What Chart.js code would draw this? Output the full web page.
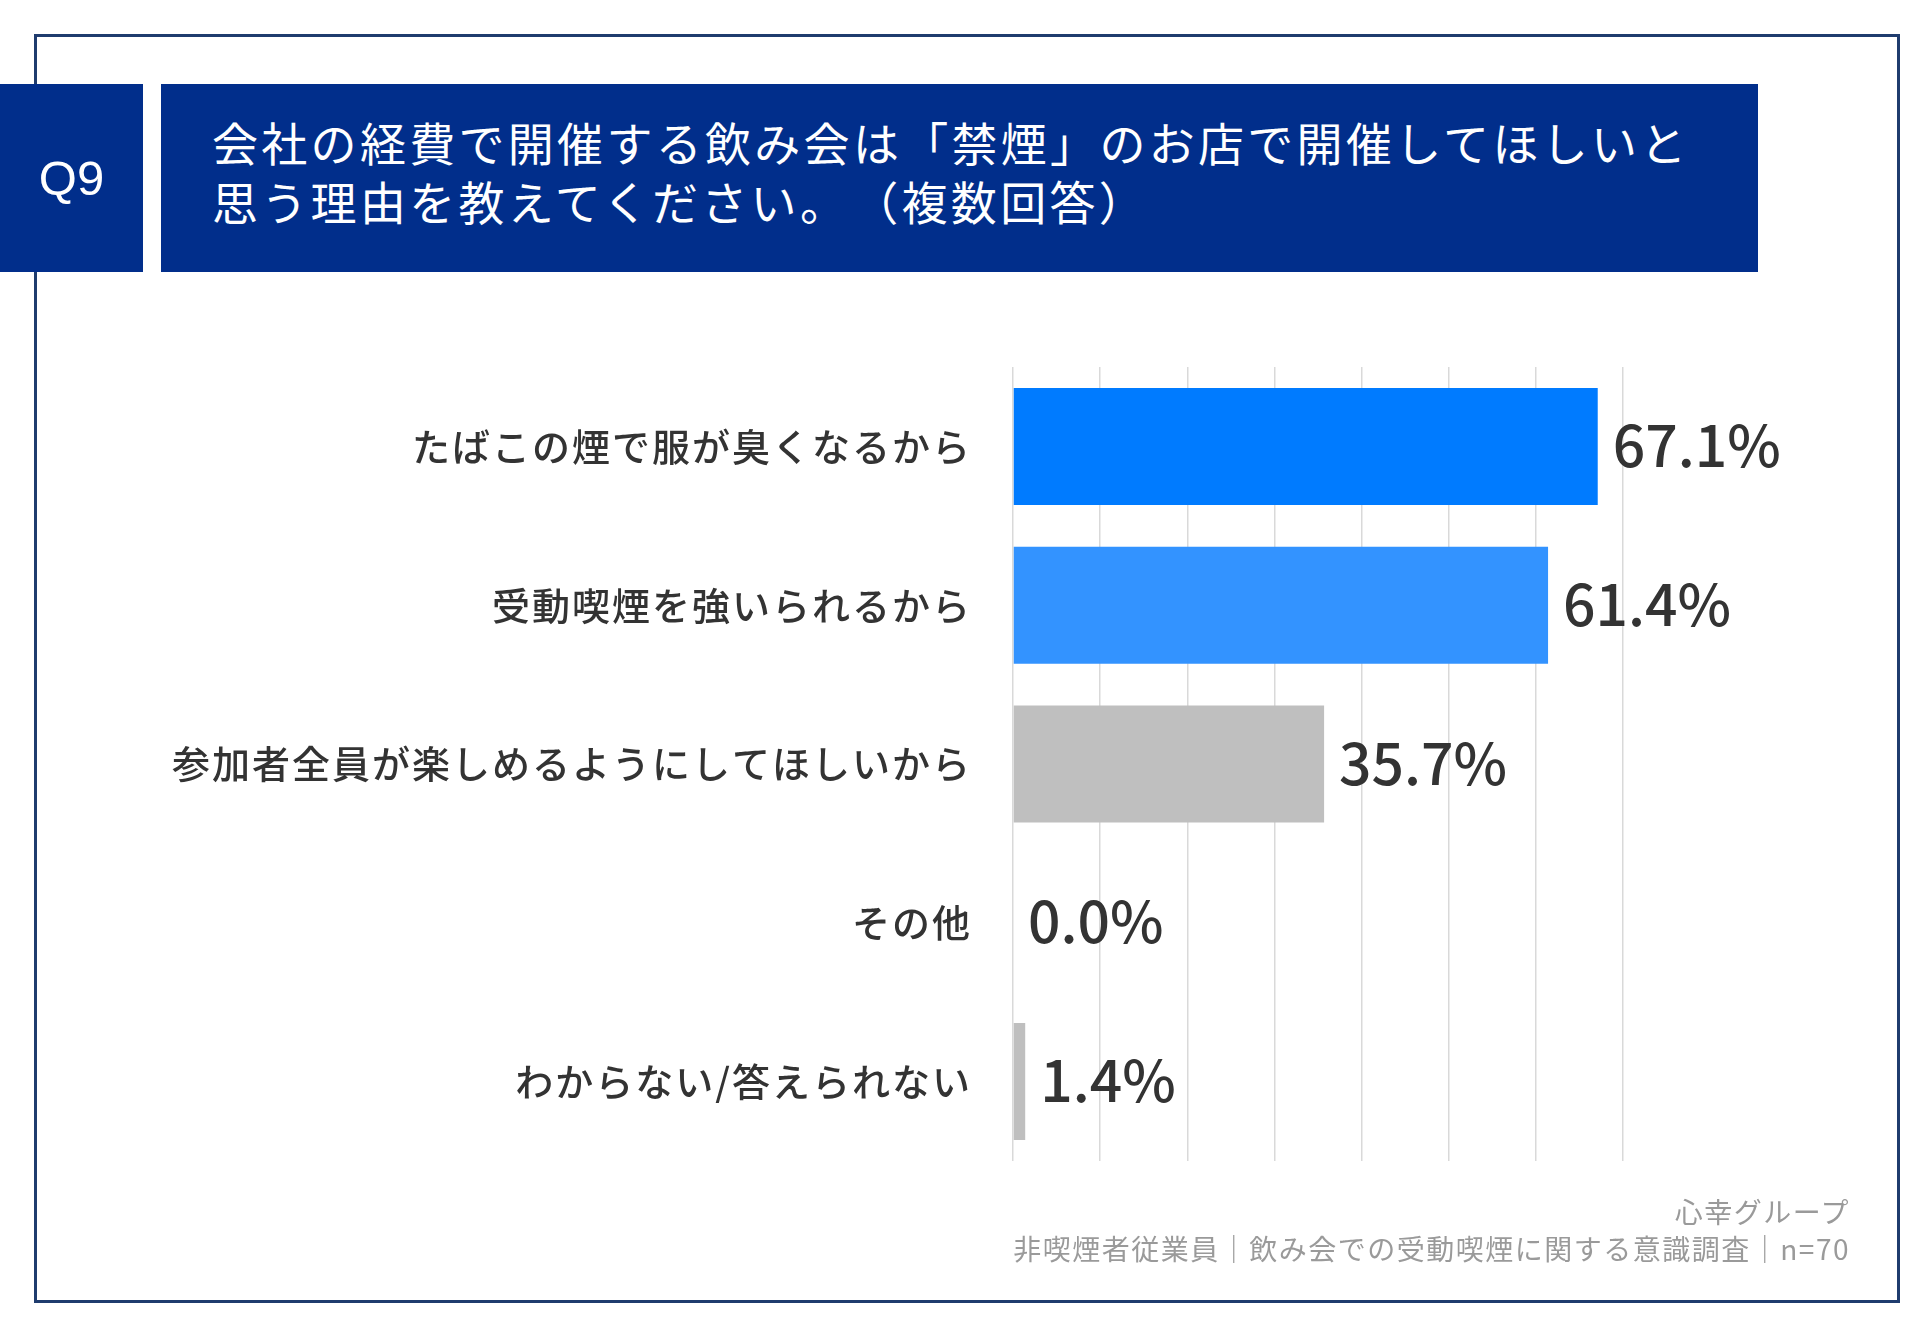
<!DOCTYPE html>
<html lang="ja">
<head>
<meta charset="utf-8">
<script src="https://cdn.jsdelivr.net/npm/chart.js@4.4.1/dist/chart.umd.min.js"></script>
<style>
  html, body { margin: 0; padding: 0; background: #ffffff; }
  body { width: 1920px; height: 1329px; position: relative; overflow: hidden;
         font-family: "Noto Sans CJK JP", "Noto Sans", sans-serif; }
  #frame { position: absolute; left: 34px; top: 34px; width: 1866px; height: 1269px;
           border: 3px solid #1f3c6e; box-sizing: border-box; }
  #qbox { position: absolute; left: 0; top: 84px; width: 143px; height: 188px; background: #012e8b;
          color: #fff; font-family: "Liberation Sans", Arial, sans-serif; font-size: 49px;
          display: flex; align-items: center; justify-content: center; }
  #tbox { position: absolute; left: 161px; top: 84px; width: 1597px; height: 188px; background: #012e8b; }
  .tline { position: absolute; left: 51px; color: #fff; font-size: 46px; letter-spacing: 3.3px;
           line-height: 1; white-space: nowrap; font-weight: 400; }
  #chartwrap { position: absolute; left: 40px; top: 340px; width: 1800px; height: 860px; }
  .foot { position: absolute; right: 70px; color: #9a9a9a; font-size: 28px; letter-spacing: 1.5px;
          line-height: 1; white-space: nowrap; }
</style>
</head>
<body>
<div id="frame"></div>
<div id="qbox">Q9</div>
<div id="tbox">
  <div class="tline" style="top:34px">会社の経費で開催する飲み会は「禁煙」のお店で開催してほしいと</div>
  <div class="tline" style="top:93px">思う理由を教えてください。<span style="margin-left:26px">（複数回答）</span></div>
</div>
<div id="chartwrap"><canvas id="c"></canvas></div>
<div class="foot" style="top:1197px">心幸グループ</div>
<div class="foot" style="top:1234px">非喫煙者従業員｜飲み会での受動喫煙に関する意識調査｜n=70</div>
<script>
const categories = [
  "たばこの煙で服が臭くなるから",
  "受動喫煙を強いられるから",
  "参加者全員が楽しめるようにしてほしいから",
  "その他",
  "わからない/答えられない"
];
const values = [67.1, 61.4, 35.7, 0.0, 1.4];
const barColors = ["#007bff", "#3393ff", "#bfbfbf", "#bfbfbf", "#bfbfbf"];
const axisMax = 70;
const axisStep = 10;

const spacingPlugin = {
  id: 'spacing',
  beforeLayout(chart) { chart.ctx.letterSpacing = '2px'; },
  beforeDraw(chart) { chart.ctx.letterSpacing = '2px'; }
};

const valueLabels = {
  id: 'valueLabels',
  afterDatasetsDraw(chart) {
    const ctx = chart.ctx;
    const meta = chart.getDatasetMeta(0);
    ctx.save();
    ctx.letterSpacing = '0px';
    ctx.font = '500 57px "Noto Sans CJK JP", "Noto Sans", sans-serif';
    ctx.fillStyle = '#333333';
    ctx.textAlign = 'left';
    ctx.textBaseline = 'middle';
    meta.data.forEach((bar, i) => {
      ctx.fillText(values[i].toFixed(1) + '%', bar.x + 15, bar.y - 1);
    });
    ctx.restore();
  }
};

new Chart(document.getElementById('c'), {
  type: 'bar',
  data: {
    labels: categories,
    datasets: [{
      data: values,
      backgroundColor: barColors,
      borderWidth: 0,
      barPercentage: 0.737,
      categoryPercentage: 1.0
    }]
  },
  options: {
    indexAxis: 'y',
    responsive: true,
    maintainAspectRatio: false,
    animation: false,
    layout: { padding: { left: 0, right: 217, top: 27, bottom: 39 } },
    plugins: { legend: { display: false }, tooltip: { enabled: false } },
    scales: {
      x: {
        min: 0, max: axisMax,
        afterFit(scale) { scale.paddingLeft = 0; scale.paddingRight = 0; scale.height = 0; },
        ticks: { display: false, stepSize: axisStep },
        grid: { color: '#d9d9d9', lineWidth: 1.5, drawTicks: false },
        border: { display: false }
      },
      y: {
        afterFit(scale) { scale.width = 973; scale.paddingTop = 0; scale.paddingBottom = 0; },
        ticks: {
          padding: 41,
          color: '#333333',
          font: { family: '"Noto Sans CJK JP", "Noto Sans", sans-serif', size: 38, weight: 500 }
        },
        grid: { display: false, drawTicks: false },
        border: { display: false }
      }
    }
  },
  plugins: [spacingPlugin, valueLabels]
});
</script>
</body>
</html>
